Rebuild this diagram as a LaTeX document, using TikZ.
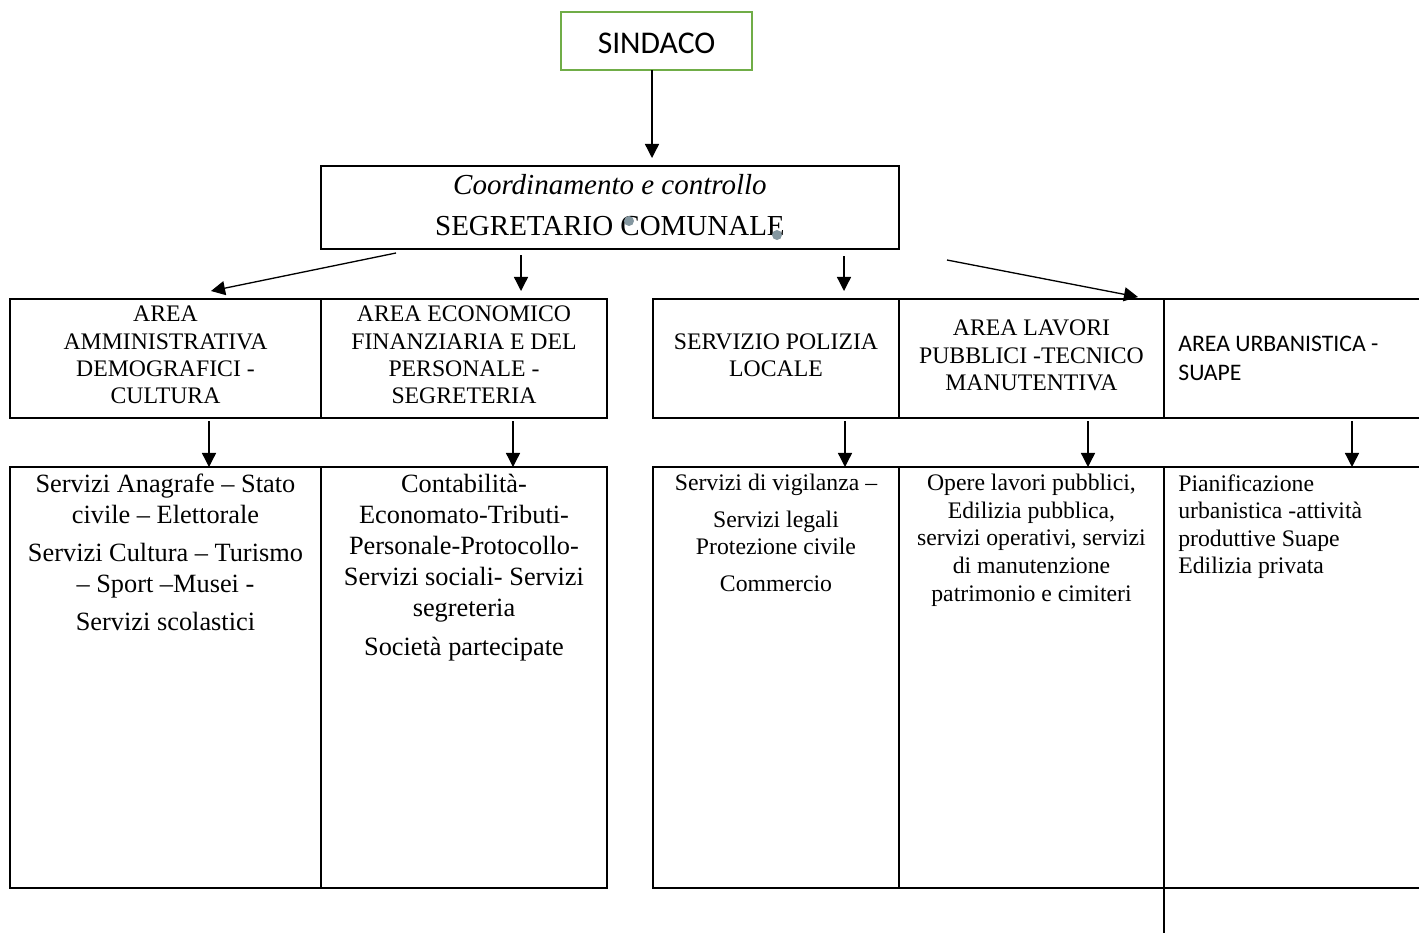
\documentclass[tikz,border=0pt]{standalone}
\usepackage{fontspec}
\setmainfont{Liberation Serif}
\newfontfamily\calibri{Carlito}
\usetikzlibrary{arrows.meta,positioning}

\definecolor{sindgreen}{RGB}{112,173,71}
\definecolor{markgray}{RGB}{132,151,160}

\tikzstyle{box}=[draw, line width=1.1pt, inner sep=0pt, outer sep=0pt, anchor=north west]
\tikzstyle{sindbox}=[draw=sindgreen, line width=1.5pt, minimum width=3.82cm,
    minimum height=1.16cm, font=\calibri\fontsize{18}{21}\selectfont]
\tikzstyle{head}=[align=center, font=\fontsize{13.5}{15.6}\selectfont]
\tikzstyle{bigtxt}=[align=center, inner sep=0pt, anchor=north,
    font=\fontsize{15}{17.6}\selectfont]
\tikzstyle{smalltxt}=[align=center, inner sep=0pt, anchor=north,
    font=\fontsize{13.5}{15.7}\selectfont]
\tikzstyle{arr}=[draw, line width=0.75pt, -{Triangle[length=8pt,width=8pt]}]
\def\rowone{2.38cm}
\def\rowtwo{8.42cm}

\begin{document}
\begin{tikzpicture}[x=0.02cm, y=-0.02cm]
    \useasboundingbox (0,0) rectangle (1419,933);

    \node (sind) [sindbox, outer sep=0pt] at (656.5,41) {};
    \node (sindtxt) [font=\calibri\fontsize{18}{21}\selectfont, inner sep=0pt]
        at (656.5,43.5) {SINDACO};
    \node (seg) [box, minimum width=11.56cm, minimum height=1.66cm] at (321,166) {};
    \node (segtxt) [align=center, inner sep=0pt, font=\fontsize{16.5}{19}\selectfont]
        at ([yshift=0.05cm]seg.center)
        {\textit{Coordinamento e controllo}\\[4.3pt]SEGRETARIO COMUNALE};

    % first row of areas
    \node (amm) [box, minimum width=6.22cm, minimum height=\rowone] at (10,299) {};
    \node (eco) [box, minimum width=5.72cm, minimum height=\rowone] at (321,299) {};
    \node (pol) [box, minimum width=4.92cm, minimum height=\rowone] at (653,299) {};
    \node (lav) [box, minimum width=5.30cm, minimum height=\rowone] at (899,299) {};
    \node (urb) [box, minimum width=5.32cm, minimum height=\rowone] at (1164,299) {};

    \node (ammtxt) [head] at ([yshift=0.07cm]amm.center)
        {AREA\\AMMINISTRATIVA\\DEMOGRAFICI -\\CULTURA};
    \node (ecotxt) [head] at ([yshift=0.07cm]eco.center)
        {AREA ECONOMICO\\FINANZIARIA E DEL\\PERSONALE -\\SEGRETERIA};
    \node (poltxt) [head] at ([yshift=0.07cm]pol.center)
        {SERVIZIO POLIZIA\\LOCALE};
    \node (lavtxt) [head] at ([yshift=0.06cm]lav.center)
        {AREA LAVORI\\PUBBLICI -TECNICO\\MANUTENTIVA};
    \node (urbtxt) [align=left, anchor=west, inner sep=0pt,
        font=\calibri\fontsize{13.5}{16.4}\selectfont] at (1178,358)
        {AREA URBANISTICA -\\SUAPE};

    % second row of services
    \node (amms) [box, minimum width=6.22cm, minimum height=\rowtwo] at (10,467) {};
    \node (ecos) [box, minimum width=5.72cm, minimum height=\rowtwo] at (321,467) {};
    \node (pols) [box, minimum width=4.92cm, minimum height=\rowtwo] at (653,467) {};
    \node (lavs) [box, minimum width=5.30cm, minimum height=\rowtwo] at (899,467) {};
    \node (urbs) [box, minimum width=5.32cm, minimum height=\rowtwo] at (1164,467) {};

    \node (ammstxt) [bigtxt] at ([yshift=-0.14cm]amms.north)
        {Servizi Anagrafe – Stato\\civile – Elettorale\\[4pt]Servizi Cultura – Turismo\\– Sport –Musei -\\[4pt]Servizi scolastici};
    \node (ecostxt) [bigtxt] at ([yshift=-0.14cm]ecos.north)
        {Contabilità-\\Economato-Tributi-\\Personale-Protocollo-\\Servizi sociali- Servizi\\segreteria\\[4.5pt]Società partecipate};
    \node (polstxt) [smalltxt] at ([yshift=-0.14cm]pols.north)
        {Servizi di vigilanza –\\[5pt]Servizi legali\\Protezione civile\\[5pt]Commercio};
    \node (lavstxt) [smalltxt] at ([yshift=-0.14cm]lavs.north)
        {Opere lavori pubblici,\\Edilizia pubblica,\\servizi operativi, servizi\\di manutenzione\\patrimonio e cimiteri};
    \node (urbstxt) [smalltxt, align=left, anchor=north west] at (1178,474)
        {Pianificazione\\urbanistica -attività\\produttive Suape\\Edilizia privata};

    % arrows from the top
    \coordinate (s0) at (652,70);
    \draw [arr] (s0) -- ([yshift=0.16cm]s0 |- seg.north);
    \coordinate (s1) at (396,253); \coordinate (e1) at (211,291);
    \coordinate (s2) at (521,255);
    \coordinate (s3) at (844,256);
    \coordinate (s4) at (947,260); \coordinate (e4) at (1138,297);
    \draw [arr] (s1) -- (e1);
    \draw [arr] (s2) -- ([yshift=0.16cm]s2 |- eco.north);
    \draw [arr] (s3) -- ([yshift=0.16cm]s3 |- pol.north);
    \draw [arr] (s4) -- (e4);

    % arrows down to the services
    \coordinate (d1) at (209,421);
    \coordinate (d2) at (513,421);
    \coordinate (d3) at (845,421);
    \coordinate (d4) at (1088,421);
    \coordinate (d5) at (1352,421);
    \foreach \d/\t in {d1/amms, d2/ecos, d3/pols, d4/lavs, d5/urbs}
        \draw [arr] (\d) -- (\d |- \t.north);

    \draw [line width=1.1pt] (urbs.south west) -- ++(0,45);

    % grey marks over the title
    \fill [markgray] (629,221) circle (5);
    \fill [markgray] (777,235) circle (5);
\end{tikzpicture}
\end{document}
